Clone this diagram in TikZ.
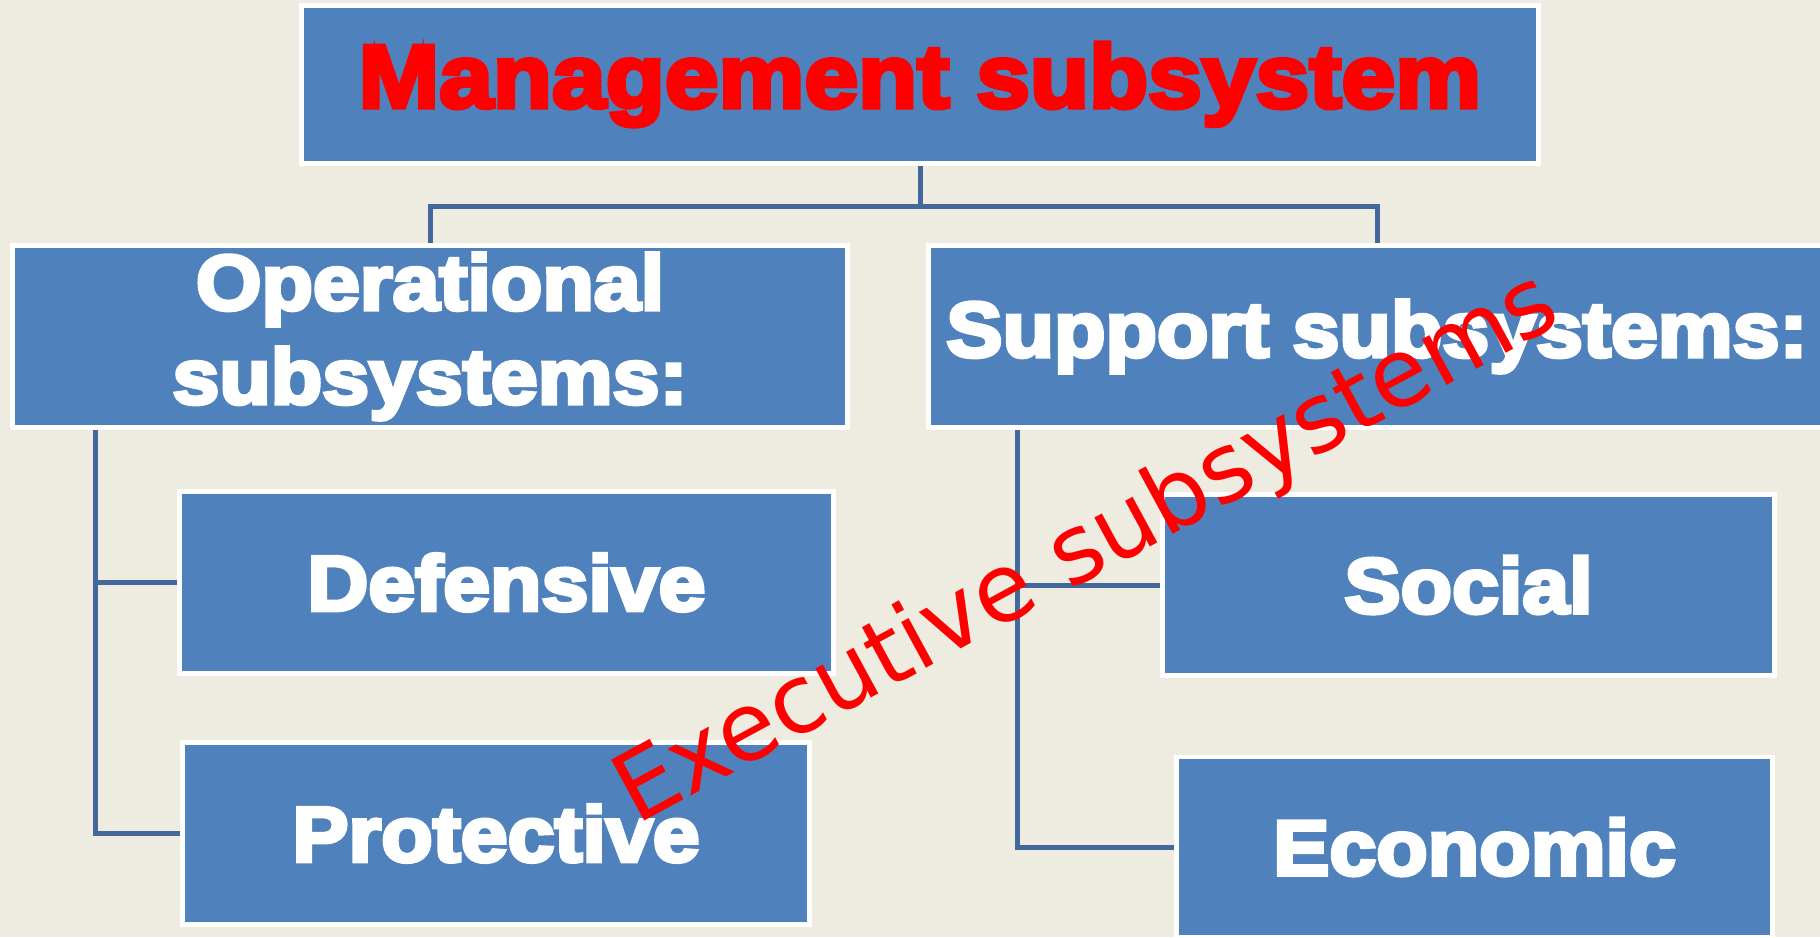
\documentclass[tikz,border=0pt]{standalone}
\usepackage{fontspec}
\newfontfamily\heavyfont{Liberation Sans Bold}[FakeBold=5,FakeStretch=1.08]
\newfontfamily\stampfont{DejaVu Sans}
\definecolor{slidetan}{HTML}{EEECE1}
\definecolor{boxblue}{HTML}{4F81BD}
\definecolor{linkblue}{HTML}{43699C}
\begin{document}
\begin{tikzpicture}[x=1pt, y=-1pt,
			every node/.style = {shape=rectangle, draw=white, line width=4.5pt,
				fill=boxblue, align=center, inner sep=0pt,
				text=white, font=\heavyfont\fontsize{78}{94}\selectfont},
			link/.style = {draw=linkblue, line width=5pt}]
			\tikzset{stamp/.style={draw=none, fill=none, text=red, font=\stampfont\fontsize{95}{100}\selectfont}}
			\fill[slidetan] (0,0) rectangle (1820,937);
			\useasboundingbox (0,0) rectangle (1820,937);
			\node[minimum width=1237pt, minimum height=158pt, text=red, font=\heavyfont\fontsize{89.5}{100}\selectfont] (mgmt) at (920,84.5) {\raisebox{-4pt}{Management subsystem}};
			\node[minimum width=835pt, minimum height=182pt] (oper) at (430,336.5) {Operational\\subsystems:};
			\node[minimum width=897pt, minimum height=182pt] (supp) at (1377,336.5) {Support subsystems:};
			\node[minimum width=654pt, minimum height=182pt] (def) at (506.5,582.5) {Defensive};
			\node[minimum width=627pt, minimum height=182pt] (prot) at (496,833.5) {Protective};
			\node[minimum width=612pt, minimum height=181pt] (soc) at (1468.5,585) {Social};
			\node[minimum width=596pt, minimum height=180pt] (econ) at (1474.5,847) {Economic};
			\coordinate (lx) at (95,0);
			\coordinate (rx) at (1017,0);
			% tree links
			\draw[link] (mgmt.south) -- ++(0,41) -| (oper.north);
			\draw[link] (mgmt.south) -- ++(0,41) -| (supp.north);
			\draw[link] (oper.south -| lx) |- (def.west);
			\draw[link] (oper.south -| lx) |- (prot.west);
			\draw[link] (supp.south -| rx) |- (soc.west);
			\draw[link] (supp.south -| rx) |- (econ.west);
			\node[stamp, rotate=28.5, anchor=base] (exec) at (1100,574) {Executive subsystems};
		\end{tikzpicture}
\end{document}
